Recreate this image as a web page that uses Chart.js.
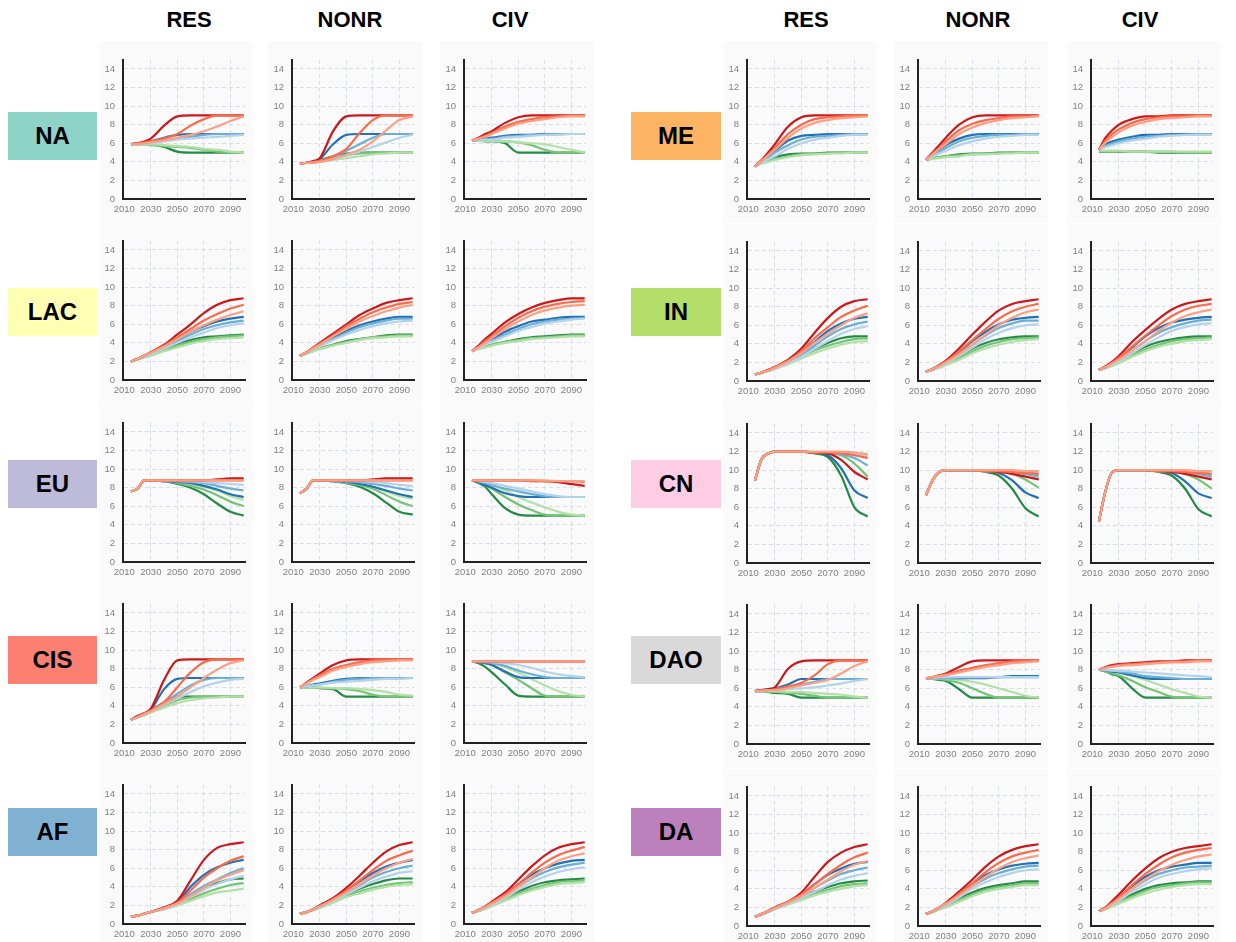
<!DOCTYPE html>
<html><head><meta charset="utf-8">
<script src="https://cdn.jsdelivr.net/npm/chart.js@4.4.1/dist/chart.umd.min.js"></script>
<style>
body{margin:0;background:#fff;width:1236px;height:942px;position:relative;overflow:hidden;font-family:"Liberation Sans",Arial,sans-serif}
.bg{position:absolute;background:#fafafa}
.title{position:absolute;font-weight:bold;font-size:22px;line-height:26px;transform:translateX(-50%);top:7px;color:#000;white-space:nowrap}
.reg{position:absolute;display:flex;align-items:center;justify-content:center;font-weight:bold;font-size:24px;color:#000}
canvas{position:absolute}
</style></head><body>
<script>
// ---------------- data ----------------
const YEARS = [2015,2020,2025,2030,2040,2050,2060,2070,2080,2090,2100];
const X_TICKS = [2010,2030,2050,2070,2090];
const Y_TICKS = [0,2,4,6,8,10,12,14];
const SECTORS = ["RES","NONR","CIV"];
const REGIONS_LEFT = ["NA","LAC","EU","CIS","AF"];
const REGIONS_RIGHT = ["ME","IN","CN","DAO","DA"];
const SERIES_NAMES = ["red-dark","red-mid","red-light","blue-dark","blue-mid","blue-light","green-dark","green-mid","green-light"];
const SERIES_COLORS = ["#cb181d","#fb6a4a","#fca083","#2171b5","#6baed6","#b4d3ea","#238b45","#74c476","#b3e0a6"];
const SERIES_ORDER = [2,1,0,5,4,3,8,7,6];
const REGION_COLORS = {NA:"#8dd3c7",LAC:"#ffffb3",EU:"#bebada",CIS:"#fb8072",AF:"#80b1d3",ME:"#fdb462",IN:"#b3de69",CN:"#fccde5",DAO:"#d9d9d9",DA:"#bc80bd"};

const NA_RES = [
 [5.9,6.0,6.2,6.5,7.9,8.9,9.0,9.0,9.0,9.0,9.0],
 [5.9,6.0,6.1,6.2,6.5,7.0,7.9,8.6,9.0,9.0,9.0],
 [5.9,5.9,6.0,6.1,6.3,6.6,6.9,7.3,7.8,8.4,8.9],
 [5.9,6.0,6.1,6.2,6.6,6.9,7.0,7.0,7.0,7.0,7.0],
 [5.9,5.9,6.0,6.1,6.3,6.5,6.7,6.9,7.0,7.0,7.0],
 [5.9,5.9,6.0,6.0,6.2,6.4,6.5,6.6,6.7,6.8,6.9],
 [5.9,5.9,5.9,5.9,5.6,5.1,5.0,5.0,5.0,5.0,5.0],
 [5.9,5.9,5.9,5.8,5.7,5.6,5.5,5.3,5.1,5.0,5.0],
 [5.9,5.9,5.9,5.9,5.8,5.7,5.6,5.4,5.3,5.1,5.0]];
const NA_NONR = [
 [3.8,3.9,4.1,4.4,7.3,8.9,9.0,9.0,9.0,9.0,9.0],
 [3.8,3.9,4.0,4.1,4.6,5.4,7.1,8.5,9.0,9.0,9.0],
 [3.8,3.9,3.9,4.0,4.3,4.8,5.3,6.2,7.4,8.5,8.9],
 [3.8,3.9,4.0,4.3,5.9,6.9,7.0,7.0,7.0,7.0,7.0],
 [3.8,3.9,4.0,4.1,4.5,5.2,5.9,6.6,7.0,7.0,7.0],
 [3.8,3.9,3.9,4.0,4.3,4.7,5.1,5.6,6.1,6.6,6.9],
 [3.8,3.9,4.0,4.2,4.6,4.9,5.0,5.0,5.0,5.0,5.0],
 [3.8,3.9,4.0,4.1,4.4,4.7,4.9,5.0,5.0,5.0,5.0],
 [3.8,3.9,3.9,4.0,4.2,4.4,4.6,4.8,4.9,5.0,5.0]];
const NA_CIV = [
 [6.3,6.6,7.0,7.3,8.2,8.8,9.0,9.0,9.0,9.0,9.0],
 [6.3,6.5,6.8,7.1,7.8,8.3,8.6,8.8,8.9,9.0,9.0],
 [6.3,6.5,6.7,7.0,7.6,8.1,8.4,8.6,8.8,8.9,8.9],
 [6.3,6.4,6.5,6.6,6.8,6.9,6.9,7.0,7.0,7.0,7.0],
 [6.3,6.4,6.4,6.5,6.7,6.8,6.9,6.9,7.0,7.0,7.0],
 [6.3,6.3,6.4,6.4,6.6,6.7,6.8,6.9,6.9,7.0,7.0],
 [6.3,6.3,6.2,6.2,6.0,5.0,5.0,5.0,5.0,5.0,5.0],
 [6.3,6.3,6.2,6.2,6.2,6.1,5.8,5.3,5.0,5.0,5.0],
 [6.3,6.3,6.2,6.2,6.2,6.1,6.0,5.9,5.6,5.3,5.0]];
const ME_RES = [
 [3.5,4.2,5.0,5.9,7.8,8.8,9.0,9.0,9.0,9.0,9.0],
 [3.5,4.1,4.8,5.5,7.0,8.0,8.6,8.8,8.9,9.0,9.0],
 [3.5,4.1,4.7,5.3,6.6,7.6,8.2,8.5,8.7,8.8,8.9],
 [3.5,4.1,4.7,5.2,6.3,6.8,6.9,7.0,7.0,7.0,7.0],
 [3.5,4.0,4.5,5.0,5.8,6.4,6.7,6.8,6.9,7.0,7.0],
 [3.5,3.9,4.3,4.6,5.4,6.0,6.4,6.6,6.8,6.9,6.9],
 [3.5,4.0,4.3,4.5,4.8,4.9,4.9,5.0,5.0,5.0,5.0],
 [3.5,3.9,4.1,4.3,4.6,4.8,4.9,4.9,5.0,5.0,5.0],
 [3.5,3.8,4.0,4.2,4.5,4.7,4.8,4.9,4.9,5.0,5.0]];
const ME_NONR = [
 [4.2,5.0,5.8,6.6,8.0,8.8,9.0,9.0,9.0,9.0,9.0],
 [4.2,4.9,5.5,6.2,7.4,8.1,8.5,8.7,8.9,8.9,9.0],
 [4.2,4.8,5.4,5.9,7.0,7.7,8.2,8.5,8.7,8.8,8.9],
 [4.2,4.8,5.3,5.8,6.5,6.9,7.0,7.0,7.0,7.0,7.0],
 [4.2,4.7,5.1,5.5,6.2,6.6,6.8,6.9,6.9,7.0,7.0],
 [4.2,4.6,4.9,5.2,5.8,6.2,6.5,6.7,6.8,6.9,6.9],
 [4.2,4.4,4.5,4.6,4.8,4.9,4.9,5.0,5.0,5.0,5.0],
 [4.2,4.4,4.5,4.6,4.7,4.8,4.9,4.9,5.0,5.0,5.0],
 [4.2,4.3,4.4,4.5,4.6,4.8,4.8,4.9,4.9,5.0,5.0]];
const ME_CIV = [
 [5.3,6.6,7.4,8.0,8.6,8.9,8.9,9.0,9.0,9.0,9.0],
 [5.3,6.3,7.0,7.5,8.2,8.6,8.8,8.9,8.9,9.0,9.0],
 [5.3,6.1,6.7,7.2,7.9,8.3,8.6,8.7,8.8,8.9,8.9],
 [5.3,5.9,6.2,6.4,6.7,6.9,6.9,7.0,7.0,7.0,7.0],
 [5.3,5.7,6.0,6.2,6.5,6.7,6.8,6.9,6.9,7.0,7.0],
 [5.3,5.6,5.8,6.0,6.3,6.5,6.7,6.8,6.9,6.9,6.9],
 [5.1,5.1,5.1,5.1,5.1,5.1,5.0,5.0,5.0,5.0,5.0],
 [5.1,5.1,5.1,5.1,5.1,5.1,5.1,5.1,5.0,5.0,5.0],
 [5.2,5.2,5.2,5.2,5.1,5.1,5.1,5.1,5.1,5.1,5.1]];
const LAC_RES = [
 [2.0,2.3,2.6,3.0,3.8,4.9,6.0,7.2,8.1,8.6,8.8],
 [2.0,2.3,2.6,3.0,3.7,4.6,5.5,6.4,7.1,7.7,8.1],
 [2.0,2.3,2.6,2.9,3.6,4.4,5.2,5.9,6.5,7.0,7.4],
 [2.0,2.3,2.6,2.9,3.6,4.4,5.2,5.8,6.3,6.6,6.8],
 [2.0,2.3,2.6,2.9,3.5,4.2,4.9,5.5,5.9,6.2,6.4],
 [2.0,2.3,2.5,2.8,3.4,4.0,4.6,5.1,5.6,5.9,6.1],
 [2.0,2.3,2.6,2.8,3.4,3.9,4.3,4.6,4.7,4.8,4.9],
 [2.0,2.2,2.5,2.7,3.2,3.7,4.1,4.4,4.6,4.7,4.8],
 [2.0,2.2,2.4,2.6,3.1,3.5,3.9,4.2,4.4,4.5,4.6]];
const LAC_NONR = [
 [2.6,3.0,3.5,4.0,5.0,6.0,7.0,7.7,8.3,8.6,8.8],
 [2.6,3.0,3.5,3.9,4.8,5.8,6.6,7.3,7.8,8.2,8.4],
 [2.6,3.0,3.4,3.8,4.7,5.5,6.3,6.9,7.4,7.8,8.1],
 [2.6,3.0,3.4,3.8,4.6,5.3,5.9,6.3,6.6,6.8,6.8],
 [2.6,2.9,3.3,3.7,4.4,5.1,5.7,6.1,6.4,6.6,6.6],
 [2.6,2.9,3.3,3.6,4.3,4.9,5.4,5.8,6.1,6.3,6.4],
 [2.6,2.9,3.2,3.4,3.8,4.2,4.4,4.6,4.8,4.9,4.9],
 [2.6,2.9,3.1,3.4,3.8,4.1,4.4,4.6,4.7,4.8,4.8],
 [2.6,2.8,3.1,3.3,3.7,4.0,4.3,4.5,4.6,4.7,4.7]];
const LAC_CIV = [
 [3.1,3.7,4.4,5.0,6.2,7.1,7.8,8.3,8.6,8.8,8.8],
 [3.1,3.6,4.2,4.7,5.8,6.7,7.4,7.9,8.2,8.4,8.5],
 [3.1,3.5,4.0,4.5,5.5,6.3,7.0,7.5,7.8,8.0,8.1],
 [3.1,3.5,4.0,4.4,5.2,5.8,6.3,6.5,6.7,6.8,6.8],
 [3.1,3.5,3.9,4.2,4.9,5.5,6.0,6.3,6.5,6.6,6.7],
 [3.1,3.4,3.8,4.1,4.7,5.3,5.7,6.1,6.3,6.5,6.6],
 [3.1,3.4,3.6,3.8,4.1,4.4,4.6,4.7,4.8,4.9,4.9],
 [3.1,3.4,3.6,3.8,4.1,4.3,4.5,4.6,4.7,4.8,4.8],
 [3.1,3.3,3.5,3.7,4.0,4.2,4.4,4.5,4.6,4.7,4.7]];
const IN_RES = [
 [0.7,0.9,1.2,1.5,2.3,3.5,5.2,6.8,8.0,8.6,8.8],
 [0.7,0.9,1.2,1.5,2.2,3.2,4.6,5.8,6.9,7.6,8.1],
 [0.7,0.9,1.1,1.4,2.1,3.0,4.1,5.1,6.0,6.8,7.3],
 [0.7,0.9,1.1,1.4,2.1,3.0,4.2,5.4,6.2,6.7,6.9],
 [0.7,0.9,1.1,1.4,2.0,2.8,3.8,4.8,5.6,6.1,6.4],
 [0.7,0.9,1.1,1.3,1.9,2.6,3.5,4.3,5.1,5.6,5.9],
 [0.7,0.9,1.1,1.4,2.0,2.8,3.5,4.1,4.6,4.8,4.8],
 [0.7,0.9,1.1,1.3,1.9,2.6,3.3,3.8,4.2,4.5,4.6],
 [0.7,0.9,1.1,1.3,1.8,2.4,3.0,3.5,3.9,4.2,4.3]];
const IN_NONR = [
 [1.0,1.3,1.7,2.2,3.5,5.0,6.4,7.6,8.3,8.6,8.8],
 [1.0,1.3,1.7,2.1,3.2,4.4,5.6,6.7,7.5,8.0,8.3],
 [1.0,1.3,1.6,2.0,2.9,3.9,5.0,6.0,6.8,7.4,7.7],
 [1.0,1.3,1.7,2.1,3.1,4.3,5.3,6.1,6.6,6.8,6.9],
 [1.0,1.3,1.6,2.0,2.9,3.9,4.9,5.7,6.2,6.5,6.5],
 [1.0,1.2,1.5,1.9,2.7,3.6,4.5,5.2,5.7,6.0,6.1],
 [1.0,1.2,1.5,1.9,2.7,3.5,4.1,4.5,4.7,4.8,4.8],
 [1.0,1.2,1.5,1.8,2.5,3.2,3.8,4.2,4.5,4.6,4.7],
 [1.0,1.2,1.4,1.7,2.3,3.0,3.5,3.9,4.2,4.4,4.5]];
const IN_CIV = [
 [1.2,1.6,2.1,2.7,4.2,5.5,6.7,7.7,8.3,8.6,8.8],
 [1.2,1.5,2.0,2.5,3.7,4.9,6.0,7.0,7.7,8.1,8.3],
 [1.2,1.5,1.9,2.3,3.3,4.3,5.4,6.3,7.0,7.4,7.7],
 [1.2,1.5,1.9,2.4,3.6,4.8,5.7,6.3,6.6,6.8,6.9],
 [1.2,1.5,1.9,2.3,3.3,4.3,5.2,5.8,6.2,6.5,6.6],
 [1.2,1.4,1.8,2.1,3.0,3.9,4.7,5.4,5.8,6.1,6.2],
 [1.2,1.4,1.8,2.2,3.0,3.7,4.2,4.5,4.7,4.8,4.8],
 [1.2,1.4,1.7,2.0,2.8,3.4,3.9,4.3,4.5,4.6,4.7],
 [1.2,1.4,1.6,1.9,2.6,3.2,3.7,4.0,4.3,4.4,4.5]];
const EU_RES = [
 [7.6,7.9,8.8,8.8,8.8,8.8,8.8,8.8,8.9,9.0,9.0],
 [7.6,7.9,8.8,8.8,8.8,8.8,8.8,8.8,8.8,8.8,8.8],
 [7.6,7.9,8.8,8.8,8.8,8.8,8.8,8.8,8.8,8.8,8.8],
 [7.6,7.9,8.8,8.8,8.7,8.6,8.5,8.2,7.8,7.3,7.0],
 [7.6,7.9,8.8,8.8,8.7,8.7,8.6,8.5,8.2,7.9,7.7],
 [7.6,7.9,8.8,8.8,8.8,8.7,8.7,8.6,8.5,8.4,8.3],
 [7.6,7.9,8.8,8.8,8.7,8.4,8.0,7.3,6.3,5.4,5.0],
 [7.6,7.9,8.8,8.8,8.7,8.5,8.2,7.8,7.2,6.5,6.0],
 [7.6,7.9,8.8,8.8,8.7,8.6,8.4,8.1,7.7,7.1,6.7]];
const EU_NONR = [
 [7.4,7.9,8.8,8.8,8.8,8.8,8.8,8.9,9.0,9.0,9.0],
 [7.4,7.9,8.8,8.8,8.8,8.8,8.8,8.8,8.8,8.8,8.8],
 [7.4,7.9,8.8,8.8,8.8,8.8,8.8,8.8,8.8,8.8,8.8],
 [7.4,7.9,8.8,8.8,8.7,8.6,8.4,8.1,7.7,7.3,7.0],
 [7.4,7.9,8.8,8.8,8.7,8.7,8.6,8.4,8.2,7.9,7.7],
 [7.4,7.9,8.8,8.8,8.8,8.7,8.7,8.6,8.5,8.3,8.2],
 [7.4,7.9,8.8,8.8,8.7,8.5,8.1,7.4,6.4,5.4,5.1],
 [7.4,7.9,8.8,8.8,8.7,8.5,8.3,7.9,7.2,6.5,6.0],
 [7.4,7.9,8.8,8.8,8.7,8.6,8.4,8.1,7.6,7.1,6.8]];
const EU_CIV = [
 [8.8,8.8,8.8,8.8,8.8,8.8,8.7,8.7,8.6,8.4,8.2],
 [8.8,8.8,8.8,8.8,8.8,8.8,8.8,8.7,8.7,8.7,8.6],
 [8.8,8.8,8.8,8.8,8.8,8.8,8.8,8.8,8.7,8.7,8.7],
 [8.8,8.6,8.3,8.0,7.4,7.1,7.0,7.0,7.0,7.0,7.0],
 [8.8,8.7,8.5,8.3,7.9,7.6,7.3,7.1,7.0,7.0,7.0],
 [8.8,8.7,8.6,8.5,8.2,7.9,7.6,7.3,7.1,7.0,7.0],
 [8.8,8.5,8.1,7.3,5.8,5.1,5.0,5.0,5.0,5.0,5.0],
 [8.8,8.6,8.3,7.9,7.0,6.2,5.6,5.1,5.0,5.0,5.0],
 [8.8,8.7,8.5,8.3,7.7,7.0,6.4,5.9,5.4,5.1,5.0]];
const CN_RES = [
 [8.9,11.2,11.8,12.0,12.0,12.0,11.9,11.8,11.1,9.8,9.0],
 [8.9,11.2,11.8,12.0,12.0,12.0,11.9,11.9,11.8,11.6,11.3],
 [8.9,11.2,11.8,12.0,12.0,12.0,12.0,12.0,12.0,11.9,11.7],
 [8.9,11.2,11.8,12.0,12.0,12.0,11.9,11.6,10.2,7.8,7.0],
 [8.9,11.2,11.8,12.0,12.0,12.0,11.9,11.9,11.7,11.3,10.5],
 [8.9,11.2,11.8,12.0,12.0,12.0,11.9,11.9,11.9,11.8,11.6],
 [8.9,11.2,11.8,12.0,12.0,12.0,11.8,11.4,9.4,6.0,5.0],
 [8.9,11.2,11.8,12.0,12.0,12.0,11.9,11.8,11.6,10.7,9.3],
 [8.9,11.2,11.8,12.0,12.0,12.0,11.9,11.9,11.8,11.7,11.5]];
const CN_NONR = [
 [7.3,8.9,9.8,10.0,10.0,10.0,9.9,9.8,9.6,9.3,9.0],
 [7.3,8.9,9.8,10.0,10.0,10.0,9.9,9.9,9.8,9.7,9.6],
 [7.3,8.9,9.8,10.0,10.0,10.0,10.0,10.0,10.0,9.9,9.9],
 [7.3,8.9,9.8,10.0,10.0,10.0,9.9,9.7,8.9,7.6,7.0],
 [7.3,8.9,9.8,10.0,10.0,10.0,9.9,9.9,9.8,9.6,9.3],
 [7.3,8.9,9.8,10.0,10.0,10.0,9.9,9.9,9.9,9.8,9.7],
 [7.3,8.9,9.8,10.0,10.0,10.0,9.8,9.4,8.0,5.9,5.0],
 [7.3,8.9,9.8,10.0,10.0,10.0,9.9,9.8,9.6,9.0,8.1],
 [7.3,8.9,9.8,10.0,10.0,10.0,9.9,9.9,9.8,9.6,9.4]];
const CN_CIV = [
 [4.5,7.8,9.8,10.0,10.0,10.0,9.9,9.8,9.6,9.3,9.0],
 [4.5,7.8,9.8,10.0,10.0,10.0,9.9,9.9,9.8,9.7,9.6],
 [4.5,7.8,9.8,10.0,10.0,10.0,10.0,10.0,10.0,9.9,9.9],
 [4.5,7.8,9.8,10.0,10.0,10.0,9.9,9.7,8.8,7.5,7.0],
 [4.5,7.8,9.8,10.0,10.0,10.0,9.9,9.9,9.8,9.6,9.3],
 [4.5,7.8,9.8,10.0,10.0,10.0,9.9,9.9,9.9,9.8,9.6],
 [4.5,7.8,9.8,10.0,10.0,10.0,9.8,9.4,8.0,5.8,5.0],
 [4.5,7.8,9.8,10.0,10.0,10.0,9.9,9.8,9.6,9.0,8.0],
 [4.5,7.8,9.8,10.0,10.0,10.0,9.9,9.9,9.8,9.6,9.4]];
const CIS_RES = [
 [2.5,2.9,3.2,3.7,6.8,8.9,9.0,9.0,9.0,9.0,9.0],
 [2.5,2.8,3.2,3.5,4.4,6.0,7.6,8.7,9.0,9.0,9.0],
 [2.5,2.8,3.1,3.4,4.2,5.0,6.0,7.0,7.9,8.6,8.9],
 [2.5,2.9,3.2,3.6,5.8,6.9,7.0,7.0,7.0,7.0,7.0],
 [2.5,2.8,3.1,3.5,4.3,5.3,6.2,6.8,7.0,7.0,7.0],
 [2.5,2.8,3.1,3.4,4.1,4.8,5.5,6.1,6.5,6.8,6.9],
 [2.5,2.8,3.1,3.5,4.4,5.0,5.0,5.0,5.0,5.0,5.0],
 [2.5,2.8,3.0,3.3,4.0,4.6,4.9,5.0,5.0,5.0,5.0],
 [2.5,2.8,3.0,3.3,3.8,4.3,4.6,4.8,4.9,5.0,5.0]];
const CIS_NONR = [
 [6.0,6.5,7.0,7.5,8.4,8.9,9.0,9.0,9.0,9.0,9.0],
 [6.0,6.4,6.9,7.3,8.0,8.4,8.7,8.9,9.0,9.0,9.0],
 [6.0,6.4,6.8,7.1,7.8,8.2,8.5,8.7,8.8,8.9,8.9],
 [6.0,6.1,6.3,6.4,6.7,6.9,7.0,7.0,7.0,7.0,7.0],
 [6.0,6.1,6.2,6.3,6.6,6.8,6.9,7.0,7.0,7.0,7.0],
 [6.0,6.1,6.2,6.3,6.5,6.6,6.7,6.8,6.9,6.9,7.0],
 [6.0,6.0,6.0,5.9,5.8,5.0,5.0,5.0,5.0,5.0,5.0],
 [6.0,6.0,6.0,5.9,5.9,5.8,5.6,5.2,5.0,5.0,5.0],
 [6.0,6.0,6.0,6.0,5.9,5.9,5.8,5.7,5.5,5.2,5.1]];
const CIS_CIV = [
 [8.8,8.8,8.8,8.8,8.8,8.8,8.8,8.8,8.8,8.8,8.8],
 [8.8,8.8,8.8,8.8,8.8,8.8,8.8,8.8,8.8,8.8,8.8],
 [8.8,8.8,8.8,8.8,8.8,8.8,8.8,8.8,8.8,8.8,8.8],
 [8.8,8.7,8.6,8.4,7.7,7.1,7.0,7.0,7.0,7.0,7.0],
 [8.8,8.8,8.7,8.6,8.3,7.8,7.4,7.1,7.0,7.0,7.0],
 [8.8,8.8,8.8,8.7,8.6,8.4,8.1,7.7,7.4,7.2,7.1],
 [8.8,8.6,8.2,7.6,6.3,5.1,5.0,5.0,5.0,5.0,5.0],
 [8.8,8.7,8.6,8.4,7.6,6.8,5.9,5.1,5.0,5.0,5.0],
 [8.8,8.8,8.7,8.6,8.2,7.6,6.9,6.2,5.6,5.2,5.0]];
const DAO_RES = [
 [5.7,5.8,5.9,6.1,8.1,8.9,9.0,9.0,9.0,9.0,9.0],
 [5.7,5.8,5.8,5.9,6.2,6.6,7.4,8.6,9.0,9.0,9.0],
 [5.7,5.7,5.8,5.8,6.0,6.3,6.6,6.9,7.6,8.4,8.9],
 [5.7,5.8,5.9,6.0,6.4,7.0,7.0,7.0,7.0,7.0,7.0],
 [5.7,5.7,5.8,5.9,6.1,6.4,6.7,7.0,7.0,7.0,7.0],
 [5.7,5.7,5.8,5.8,5.9,6.0,6.1,6.3,6.5,6.8,7.0],
 [5.7,5.7,5.6,5.5,5.4,5.0,5.0,5.0,5.0,5.0,5.0],
 [5.7,5.7,5.6,5.6,5.5,5.4,5.2,5.0,5.0,5.0,5.0],
 [5.7,5.7,5.7,5.7,5.6,5.6,5.5,5.4,5.3,5.1,5.0]];
const DAO_NONR = [
 [7.1,7.2,7.4,7.6,8.3,8.9,9.0,9.0,9.0,9.0,9.0],
 [7.1,7.2,7.4,7.5,7.9,8.2,8.5,8.7,8.9,9.0,9.0],
 [7.1,7.2,7.3,7.4,7.7,8.0,8.3,8.5,8.7,8.8,8.9],
 [7.1,7.1,7.1,7.1,7.1,7.1,7.1,7.2,7.3,7.3,7.3],
 [7.1,7.1,7.1,7.1,7.2,7.2,7.2,7.2,7.2,7.2,7.2],
 [7.1,7.1,7.2,7.2,7.2,7.2,7.2,7.2,7.2,7.2,7.2],
 [7.1,7.0,6.9,6.8,5.9,5.0,5.0,5.0,5.0,5.0,5.0],
 [7.1,7.0,7.0,6.9,6.6,6.0,5.4,5.0,5.0,5.0,5.0],
 [7.1,7.0,7.0,7.0,6.9,6.7,6.4,6.0,5.6,5.2,5.0]];
const DAO_CIV = [
 [8.0,8.3,8.5,8.6,8.7,8.8,8.9,8.9,9.0,9.0,9.0],
 [8.0,8.2,8.4,8.5,8.6,8.7,8.8,8.9,8.9,9.0,9.0],
 [8.0,8.2,8.3,8.4,8.5,8.6,8.7,8.8,8.8,8.9,8.9],
 [8.0,7.9,7.8,7.7,7.4,7.1,7.0,7.0,7.0,7.0,7.0],
 [8.0,7.9,7.9,7.8,7.6,7.3,7.2,7.1,7.0,7.0,7.0],
 [8.0,8.0,7.9,7.9,7.8,7.7,7.6,7.5,7.4,7.3,7.2],
 [8.0,7.8,7.5,7.3,6.0,5.0,5.0,5.0,5.0,5.0,5.0],
 [8.0,7.8,7.6,7.4,6.8,6.1,5.6,5.1,5.0,5.0,5.0],
 [8.0,7.9,7.8,7.7,7.3,6.9,6.4,5.9,5.5,5.1,5.0]];
const AF_RES = [
 [0.8,0.9,1.1,1.3,1.8,2.5,4.7,6.9,8.2,8.6,8.8],
 [0.8,0.9,1.1,1.3,1.7,2.3,3.6,5.0,6.0,6.8,7.3],
 [0.8,0.9,1.1,1.3,1.7,2.2,3.0,3.9,4.7,5.3,5.8],
 [0.8,0.9,1.1,1.3,1.7,2.3,4.0,5.3,6.1,6.6,6.9],
 [0.8,0.9,1.1,1.3,1.7,2.2,3.2,4.1,4.8,5.5,6.0],
 [0.8,0.9,1.1,1.3,1.6,2.1,2.9,3.7,4.3,4.8,5.2],
 [0.8,0.9,1.1,1.3,1.7,2.2,3.1,3.8,4.4,4.8,4.9],
 [0.8,0.9,1.1,1.3,1.6,2.1,2.7,3.3,3.8,4.2,4.4],
 [0.8,0.9,1.1,1.3,1.6,2.0,2.5,3.0,3.4,3.6,3.8]];
const AF_NONR = [
 [1.1,1.3,1.6,2.0,2.8,3.9,5.2,6.6,7.8,8.5,8.8],
 [1.1,1.3,1.6,1.9,2.7,3.6,4.7,5.8,6.8,7.4,7.9],
 [1.1,1.3,1.6,1.9,2.6,3.4,4.3,5.2,6.0,6.6,7.0],
 [1.1,1.3,1.6,2.0,2.7,3.6,4.6,5.5,6.2,6.6,6.9],
 [1.1,1.3,1.6,1.9,2.6,3.4,4.2,5.0,5.6,6.0,6.3],
 [1.1,1.3,1.5,1.8,2.5,3.2,3.9,4.6,5.1,5.5,5.7],
 [1.1,1.3,1.5,1.8,2.5,3.2,3.8,4.3,4.7,4.9,4.9],
 [1.1,1.3,1.5,1.8,2.4,3.0,3.5,3.9,4.2,4.4,4.5],
 [1.1,1.2,1.5,1.7,2.3,2.9,3.3,3.7,4.0,4.2,4.3]];
const AF_CIV = [
 [1.2,1.5,1.9,2.4,3.4,4.8,6.2,7.4,8.2,8.6,8.8],
 [1.2,1.5,1.9,2.3,3.2,4.3,5.5,6.6,7.4,7.9,8.3],
 [1.2,1.5,1.8,2.2,3.0,4.0,5.0,6.0,6.8,7.3,7.6],
 [1.2,1.5,1.9,2.3,3.2,4.3,5.3,6.0,6.5,6.8,6.9],
 [1.2,1.5,1.8,2.2,3.0,4.0,4.9,5.6,6.1,6.4,6.6],
 [1.2,1.4,1.7,2.1,2.8,3.7,4.5,5.1,5.6,5.9,6.1],
 [1.2,1.4,1.7,2.1,2.8,3.5,4.1,4.5,4.7,4.8,4.9],
 [1.2,1.4,1.7,2.0,2.7,3.3,3.8,4.2,4.5,4.6,4.7],
 [1.2,1.4,1.6,1.9,2.5,3.1,3.6,4.0,4.3,4.4,4.5]];
const DA_RES = [
 [1.0,1.3,1.6,2.0,2.6,3.6,5.3,6.9,7.9,8.5,8.8],
 [1.0,1.3,1.6,2.0,2.6,3.4,4.5,5.6,6.6,7.4,7.9],
 [1.0,1.3,1.6,1.9,2.5,3.2,4.1,5.0,5.9,6.6,7.0],
 [1.0,1.3,1.6,2.0,2.6,3.4,4.5,5.5,6.2,6.7,6.9],
 [1.0,1.3,1.6,1.9,2.5,3.2,4.1,4.9,5.6,6.0,6.3],
 [1.0,1.2,1.5,1.8,2.4,3.0,3.7,4.4,5.0,5.4,5.7],
 [1.0,1.3,1.6,1.9,2.5,3.1,3.7,4.2,4.6,4.8,4.9],
 [1.0,1.2,1.5,1.8,2.4,2.9,3.5,3.9,4.3,4.5,4.6],
 [1.0,1.2,1.5,1.8,2.3,2.8,3.3,3.7,4.0,4.3,4.4]];
const DA_NONR = [
 [1.3,1.6,2.0,2.5,3.7,5.0,6.4,7.5,8.2,8.6,8.8],
 [1.3,1.6,2.0,2.4,3.5,4.6,5.8,6.8,7.5,7.9,8.2],
 [1.3,1.6,2.0,2.4,3.3,4.3,5.3,6.2,6.9,7.3,7.6],
 [1.3,1.6,2.0,2.4,3.5,4.6,5.5,6.1,6.5,6.7,6.8],
 [1.3,1.6,1.9,2.3,3.3,4.3,5.1,5.7,6.1,6.4,6.5],
 [1.3,1.5,1.9,2.2,3.1,4.0,4.7,5.3,5.7,6.0,6.1],
 [1.3,1.5,1.9,2.2,3.0,3.6,4.1,4.4,4.6,4.8,4.8],
 [1.3,1.5,1.8,2.1,2.8,3.4,3.9,4.2,4.4,4.6,4.6],
 [1.3,1.5,1.8,2.0,2.6,3.2,3.7,4.0,4.2,4.4,4.4]];
const DA_CIV = [
 [1.6,2.0,2.7,3.4,4.9,6.2,7.3,8.0,8.4,8.6,8.8],
 [1.6,2.0,2.5,3.1,4.4,5.6,6.6,7.4,7.9,8.2,8.4],
 [1.6,1.9,2.4,2.9,4.0,5.0,5.9,6.6,7.1,7.5,7.7],
 [1.6,2.0,2.5,3.1,4.3,5.3,6.0,6.4,6.6,6.8,6.8],
 [1.6,1.9,2.4,2.9,4.0,4.9,5.6,6.0,6.3,6.4,6.5],
 [1.6,1.9,2.3,2.7,3.7,4.5,5.2,5.6,5.9,6.1,6.2],
 [1.6,1.9,2.3,2.7,3.4,4.0,4.4,4.6,4.7,4.8,4.8],
 [1.6,1.8,2.2,2.5,3.2,3.8,4.2,4.4,4.6,4.7,4.7],
 [1.6,1.8,2.1,2.4,3.0,3.5,3.9,4.2,4.4,4.5,4.5]];

const PANELS = {
 NA:[NA_RES,NA_NONR,NA_CIV], LAC:[LAC_RES,LAC_NONR,LAC_CIV], EU:[EU_RES,EU_NONR,EU_CIV],
 CIS:[CIS_RES,CIS_NONR,CIS_CIV], AF:[AF_RES,AF_NONR,AF_CIV],
 ME:[ME_RES,ME_NONR,ME_CIV], IN:[IN_RES,IN_NONR,IN_CIV], CN:[CN_RES,CN_NONR,CN_CIV],
 DAO:[DAO_RES,DAO_NONR,DAO_CIV], DA:[DA_RES,DA_NONR,DA_CIV]
};

// ---------------- layout ----------------
const LAYOUT = {
 left:  {axisX:[123,292,464], titleX:[189,350,510], boxX:8,   boxW:89, y0:[199,380,562,743,924]},
 right: {axisX:[747,918,1091], titleX:[806,978,1140], boxX:631, boxW:90, y0:[199,381,563,744,926]}
};
const BOX_TOP = [112,288,460,636,808];
const BOX_H = 48;
const PLOT_W = 122, PLOT_H = 147, YW = 30, PADT = 6, PADR = 3, XH = 20;
const X_MIN = 2009, X_MAX = 2101;
const GRID = "#d7deec";
const FONT = '"Liberation Sans", Arial, sans-serif';

function el(tag, cls, css, text){
  const e=document.createElement(tag); if(cls) e.className=cls;
  Object.assign(e.style, css||{}); if(text!==undefined) e.textContent=text;
  document.body.appendChild(e); return e;
}

function drawGroup(side, regions){
  const L = LAYOUT[side];
  SECTORS.forEach((s,c)=> el('div','title',{left:L.titleX[c]+'px'}, s));
  regions.forEach((reg,r)=>{
    el('div','reg',{left:L.boxX+'px',top:BOX_TOP[r]+'px',width:L.boxW+'px',height:BOX_H+'px',background:REGION_COLORS[reg]}, reg);
    PANELS[reg].forEach((series,c)=>{
      const ax = L.axisX[c], y0 = L.y0[r], y15 = y0 - PLOT_H;
      el('div','bg',{left:(ax-24)+'px',top:(y15-10)+'px',width:(PLOT_W+32)+'px',height:(PLOT_H+34)+'px'});
      const cv = document.createElement('canvas');
      const W = YW + PLOT_W + PADR, H = PADT + PLOT_H + XH;
      cv.width=W; cv.height=H;
      Object.assign(cv.style,{left:(ax-YW)+'px',top:(y15-PADT)+'px',width:W+'px',height:H+'px'});
      document.body.appendChild(cv);
      makeChart(cv, series);
    });
  });
}

function makeChart(cv, series){
  const datasets = series.map((vals,i)=>({
    label: SERIES_NAMES[i],
    data: YEARS.map((yr,j)=>({x:yr,y:vals[j]})),
    borderColor: SERIES_COLORS[i], backgroundColor: SERIES_COLORS[i],
    borderWidth: 2.2, pointRadius: 0, fill:false,
    cubicInterpolationMode:'monotone', order: SERIES_ORDER[i]
  }));
  new Chart(cv,{
    type:'line',
    data:{datasets},
    options:{
      responsive:false, animation:false, devicePixelRatio:1,
      layout:{padding:{top:PADT,right:PADR,left:0,bottom:0}},
      plugins:{legend:{display:false},tooltip:{enabled:false}},
      scales:{
        x:{type:'linear',min:X_MIN,max:X_MAX,
           afterBuildTicks:s=>{s.ticks=X_TICKS.map(v=>({value:v}));},
           afterFit:s=>{s.height=XH;},
           grid:{color:ctx=>(ctx.tick && ctx.tick.value===2010)?'rgba(0,0,0,0)':GRID,lineWidth:1,drawTicks:false},
           border:{display:true,color:'#222',width:2,dash:[4,3]},
           ticks:{color:'#808080',font:{family:FONT,size:9.5},padding:5,maxRotation:0,autoSkip:false,
                  callback:v=>String(v)}},
        y:{type:'linear',min:0,max:15,
           afterBuildTicks:s=>{s.ticks=Y_TICKS.map(v=>({value:v}));},
           afterFit:s=>{s.width=YW;},
           grid:{color:ctx=>(ctx.tick && ctx.tick.value===0)?'rgba(0,0,0,0)':GRID,lineWidth:1,drawTicks:false},
           border:{display:true,color:'#222',width:2,dash:[4,3]},
           ticks:{color:'#808080',font:{family:FONT,size:9.5},padding:8,callback:v=>String(v)}}
      }
    }
  });
}

drawGroup('left', REGIONS_LEFT);
drawGroup('right', REGIONS_RIGHT);
</script>
</body></html>
